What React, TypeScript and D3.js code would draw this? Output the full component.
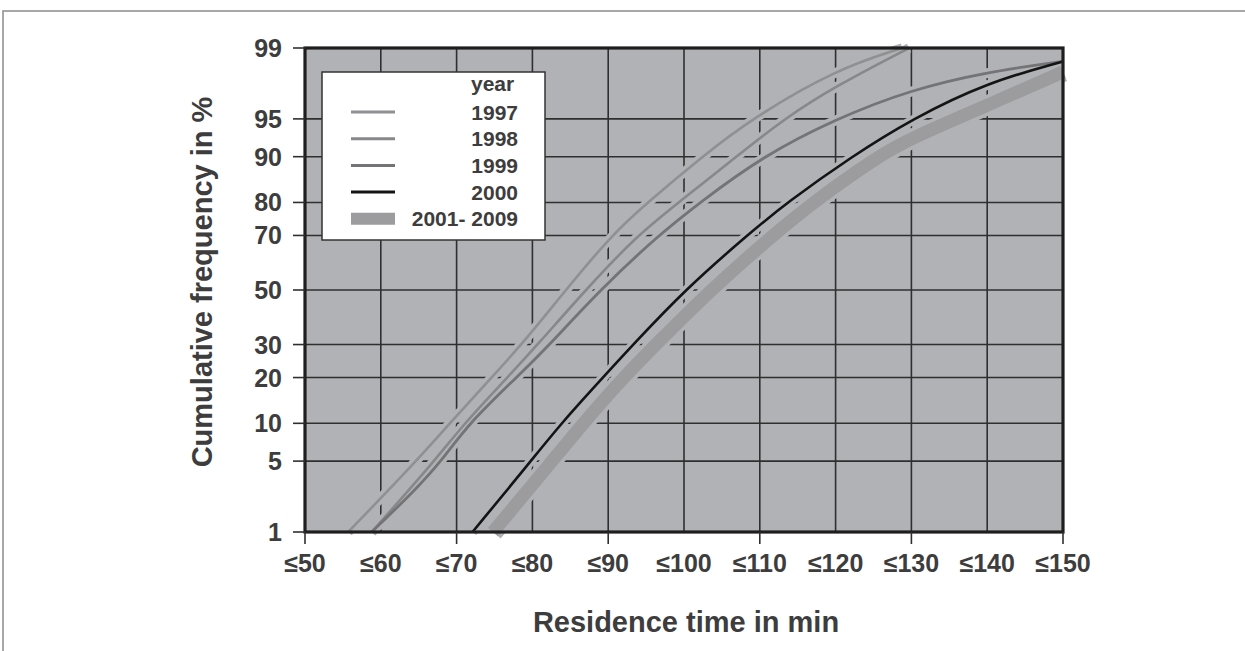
import React from "react";
import * as d3 from "d3";

// ---- data (time in min, cumulative frequency in %) ----
const xTicks = [50, 60, 70, 80, 90, 100, 110, 120, 130, 140, 150];
const xTickLabels = xTicks.map((t) => "\u2264" + t);
const xMajorTicks = [50, 70, 90, 110, 130, 150];
const yTicks = [1, 5, 10, 20, 30, 50, 70, 80, 90, 95, 99];

const s1997: [number, number][] = [
  [55.7, 1], [64.7, 5], [69.1, 10], [74.6, 20], [78.6, 30], [84.4, 50],
  [90.4, 70], [95.2, 80], [102.4, 90], [108.9, 95], [120, 98.3], [128.8, 99],
];
const s1998: [number, number][] = [
  [58.8, 1], [67.1, 5], [71.0, 10], [76.7, 20], [80.7, 30], [87.0, 50],
  [93.8, 70], [99.3, 80], [106.9, 90], [113.2, 95], [120, 97.5], [129.7, 99],
];
const s1999: [number, number][] = [
  [58.8, 1], [64.5, 2.7], [68.0, 5], [71.6, 10], [77.9, 20], [82.3, 30],
  [88.9, 50], [96.6, 70], [102.1, 80], [110.3, 90], [120.0, 95], [130, 97.3],
  [140, 98.2], [150, 98.6],
];
const s2000: [number, number][] = [
  [72.1, 1], [79.8, 5], [83.8, 10], [89.3, 20], [93.3, 30], [100.1, 50],
  [108.3, 70], [113.6, 80], [122.1, 90], [130.1, 95], [140, 97.7], [150, 98.6],
];
const s2001_2009: [number, number][] = [
  [74.8, 1], [82.6, 5], [86.7, 10], [92.0, 20], [96.3, 30], [103.5, 50],
  [111.7, 70], [117.0, 80], [125.5, 90], [130, 92.8], [140, 96.2], [150, 98.2],
];

const legendLabels = ["1997", "1998", "1999", "2000", "2001- 2009"];
const seriesList = [s2001_2009, s1997, s1998, s1999, s2000];
const seriesStyle = [
  { color: "#9c9c9f", width: 13 },
  { color: "#909093", width: 2.6 },
  { color: "#88888b", width: 2.6 },
  { color: "#747477", width: 2.8 },
  { color: "#141414", width: 2.6 },
];
const legendStyle = [seriesStyle[1], seriesStyle[2], seriesStyle[3], seriesStyle[4], seriesStyle[0]];

// inverse standard normal CDF (Acklam)
function probit(p: number): number {
  const a = [-3.969683028665376e1, 2.209460984245205e2, -2.759285104469687e2, 1.38357751867269e2, -3.066479806614716e1, 2.506628277459239];
  const b = [-5.447609879822406e1, 1.615858368580409e2, -1.556989798598866e2, 6.680131188771972e1, -1.328068155288572e1];
  const c = [-7.784894002430293e-3, -3.223964580411365e-1, -2.400758277161838, -2.549732539343734, 4.374664141464968, 2.938163982698783];
  const d = [7.784695709041462e-3, 3.224671290700398e-1, 2.445134137142996, 3.754408661907416];
  const pl = 0.02425;
  if (p < pl) {
    const q = Math.sqrt(-2 * Math.log(p));
    return (((((c[0] * q + c[1]) * q + c[2]) * q + c[3]) * q + c[4]) * q + c[5]) / ((((d[0] * q + d[1]) * q + d[2]) * q + d[3]) * q + 1);
  }
  if (p <= 1 - pl) {
    const q = p - 0.5, r = q * q;
    return ((((((a[0] * r + a[1]) * r + a[2]) * r + a[3]) * r + a[4]) * r + a[5]) * q) / (((((b[0] * r + b[1]) * r + b[2]) * r + b[3]) * r + b[4]) * r + 1);
  }
  const q = Math.sqrt(-2 * Math.log(1 - p));
  return -(((((c[0] * q + c[1]) * q + c[2]) * q + c[3]) * q + c[4]) * q + c[5]) / ((((d[0] * q + d[1]) * q + d[2]) * q + d[3]) * q + 1);
}

const W = 1245, H = 651;
const L = 305, R = 1063, T = 48, B = 532;
const FONT = "'Liberation Sans', Arial, Helvetica, sans-serif";
const TXT = "#3d3d3d";
const BG = "#b1b2b6";

export default function App() {
  const x = d3.scaleLinear().domain([50, 150]).range([L, R]);
  const z = d3.scaleLinear().domain([probit(0.01), probit(0.99)]).range([B, T]);
  const y = (p: number) => z(probit(p / 100));
  const line = d3
    .line<[number, number]>()
    .x((d) => x(d[0]))
    .y((d) => y(d[1]))
    .curve(d3.curveBasis);

  return (
    <svg width={W} height={H} style={{ position: "absolute", left: 0, top: 0, background: "#fff" }} fontFamily={FONT}>
      {/* outer frame */}
      <path d={`M3,${H} L3,11 L${W},11`} fill="none" stroke="#8a8a8a" strokeWidth={1.5} />

      {/* plot background */}
      <rect x={L} y={T} width={R - L} height={B - T} fill={BG} />

      {/* grid */}
      {xTicks.map((t) => (
        <line key={"gx" + t} x1={x(t)} x2={x(t)} y1={T} y2={B} stroke="#2f2f2f" strokeWidth={1.6} />
      ))}
      {yTicks.map((p) => (
        <line key={"gy" + p} x1={L} x2={R} y1={y(p)} y2={y(p)} stroke="#2f2f2f" strokeWidth={1.6} />
      ))}

      {/* halos */}
      {seriesList.map((s, i) => (
        <path key={"h" + i} d={line(s) || ""} fill="none" stroke={BG} strokeWidth={seriesStyle[i].width + 7} />
      ))}
      {/* curves */}
      {seriesList.map((s, i) => (
        <path key={"c" + i} d={line(s) || ""} fill="none" stroke={seriesStyle[i].color} strokeWidth={seriesStyle[i].width} strokeLinejoin="round" />
      ))}

      {/* border */}
      <rect x={L} y={T} width={R - L} height={B - T} fill="none" stroke="#1e1e1e" strokeWidth={3.2} />

      {/* y ticks */}
      {yTicks.map((p) => (
        <g key={"yt" + p}>
          <line x1={L - 12} x2={L} y1={y(p)} y2={y(p)} stroke="#2f2f2f" strokeWidth={1.6} />
          <text x={282} y={y(p)} dy="0.36em" textAnchor="end" fontSize={25} fontWeight="bold" fill={TXT}>
            {p}
          </text>
        </g>
      ))}

      {/* x ticks */}
      {xMajorTicks.map((t) => (
        <line key={"xt" + t} x1={x(t)} x2={x(t)} y1={B} y2={B + 12} stroke="#2f2f2f" strokeWidth={1.6} />
      ))}
      {xTicks.map((t, i) => (
        <text key={"xl" + t} x={x(t)} y={572} textAnchor="middle" fontSize={25} fontWeight="bold" fill={TXT}>
          {xTickLabels[i]}
        </text>
      ))}

      {/* axis titles */}
      <text x={686} y={632} textAnchor="middle" fontSize={29} fontWeight="bold" fill={TXT}>
        Residence time in min
      </text>
      <text transform={`translate(212,${(T + B) / 2 - 8}) rotate(-90)`} textAnchor="middle" fontSize={29} fontWeight="bold" fill={TXT}>
        Cumulative frequency in %
      </text>

      {/* legend */}
      <rect x={322} y={72} width={223} height={168} fill="#fff" stroke="#333" strokeWidth={1.5} />
      <text x={471} y={91} fontSize={21} fontWeight="bold" fill={TXT}>
        year
      </text>
      {legendLabels.map((lab, i) => {
        const ly = 112 + i * 26.7;
        const st = legendStyle[i];
        return (
          <g key={"lg" + i}>
            <line x1={351} x2={395} y1={ly} y2={ly} stroke={st.color} strokeWidth={i === 4 ? 12 : 3} />
            <text x={518} y={ly} dy="0.36em" textAnchor="end" fontSize={21} fontWeight="bold" fill={TXT}>
              {lab}
            </text>
          </g>
        );
      })}
    </svg>
  );
}
